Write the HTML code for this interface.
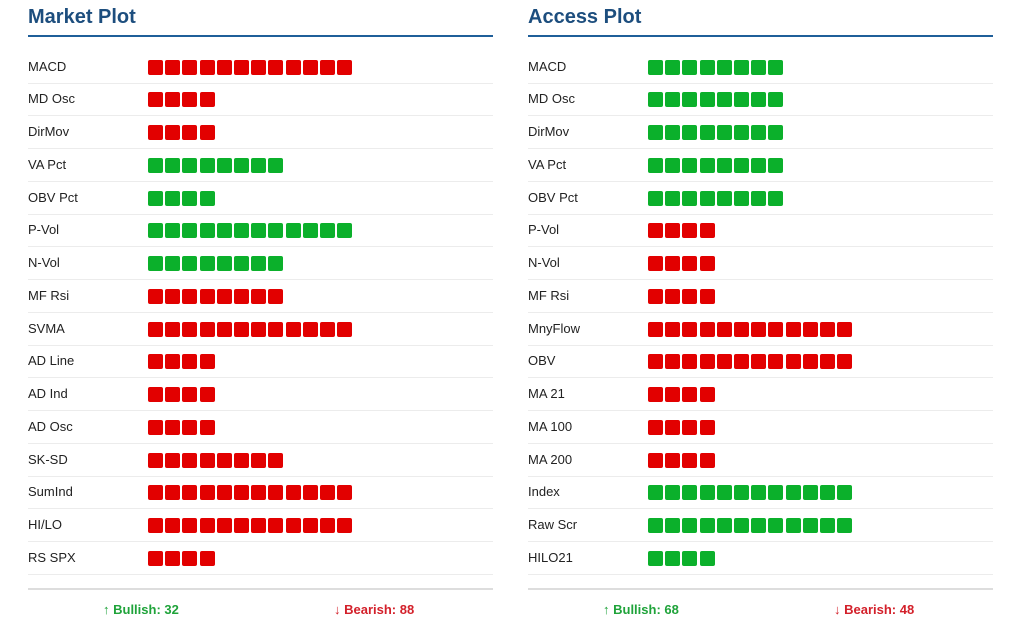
<!DOCTYPE html>
<html><head><style>
body{margin:0;width:1024px;height:630px;background:#fff;font-family:"Liberation Sans",sans-serif;position:relative;overflow:hidden}
.p{position:absolute;top:0;width:465px}
.t{position:absolute;top:6px;left:0;font-size:20px;font-weight:bold;color:#1d4e7e}
.ul{position:absolute;top:35px;left:0;width:465px;height:2px;background:#1f5f99}
.r{position:absolute;left:0;width:465px;height:33px;border-bottom:1px solid #ececec;box-sizing:border-box}
.l{position:absolute;left:0;top:8px;font-size:13px;color:#222}
.b{position:absolute;left:120px;top:9px;height:15px}
.b i{position:absolute;top:0;display:block;width:15px;height:15px;border-radius:2px}
.R i{background:#e20000}.G i{background:#0bb02b}
.f{position:absolute;top:588px;left:0;width:465px;height:2px;background:#ddd}
.ft{position:absolute;top:602px;font-size:13px;font-weight:bold}
</style></head><body>
<div class="p" style="left:28px" id="a"></div>
<div class="p" style="left:528px" id="b"></div>
<script>
function build(id,title,rows,bull,bear){
 var e=document.getElementById(id),h='<div class="t">'+title+'</div><div class="ul"></div>';
 rows.forEach(function(r,k){
  var sq='';for(var j=0;j<r[1];j++)sq+='<i style="left:'+Math.round(j*17.2)+'px"></i>';
  h+='<div class="r" style="top:'+Math.round(50.6+k*32.75)+'px"><div class="l">'+r[0]+'</div><div class="b '+r[2]+'">'+sq+'</div></div>';
 });
 h+='<div class="f"></div><div class="ft" style="left:75px;color:#1fa33a">↑ Bullish: '+bull+'</div><div class="ft" style="left:306px;color:#d3202a">↓ Bearish: '+bear+'</div>';
 e.innerHTML=h;
}
build('a','Market Plot',[["MACD",12,"R"],["MD Osc",4,"R"],["DirMov",4,"R"],["VA Pct",8,"G"],["OBV Pct",4,"G"],["P-Vol",12,"G"],["N-Vol",8,"G"],["MF Rsi",8,"R"],["SVMA",12,"R"],["AD Line",4,"R"],["AD Ind",4,"R"],["AD Osc",4,"R"],["SK-SD",8,"R"],["SumInd",12,"R"],["HI/LO",12,"R"],["RS SPX",4,"R"]],32,88);
build('b','Access Plot',[["MACD",8,"G"],["MD Osc",8,"G"],["DirMov",8,"G"],["VA Pct",8,"G"],["OBV Pct",8,"G"],["P-Vol",4,"R"],["N-Vol",4,"R"],["MF Rsi",4,"R"],["MnyFlow",12,"R"],["OBV",12,"R"],["MA 21",4,"R"],["MA 100",4,"R"],["MA 200",4,"R"],["Index",12,"G"],["Raw Scr",12,"G"],["HILO21",4,"G"]],68,48);
</script>
</body></html>
